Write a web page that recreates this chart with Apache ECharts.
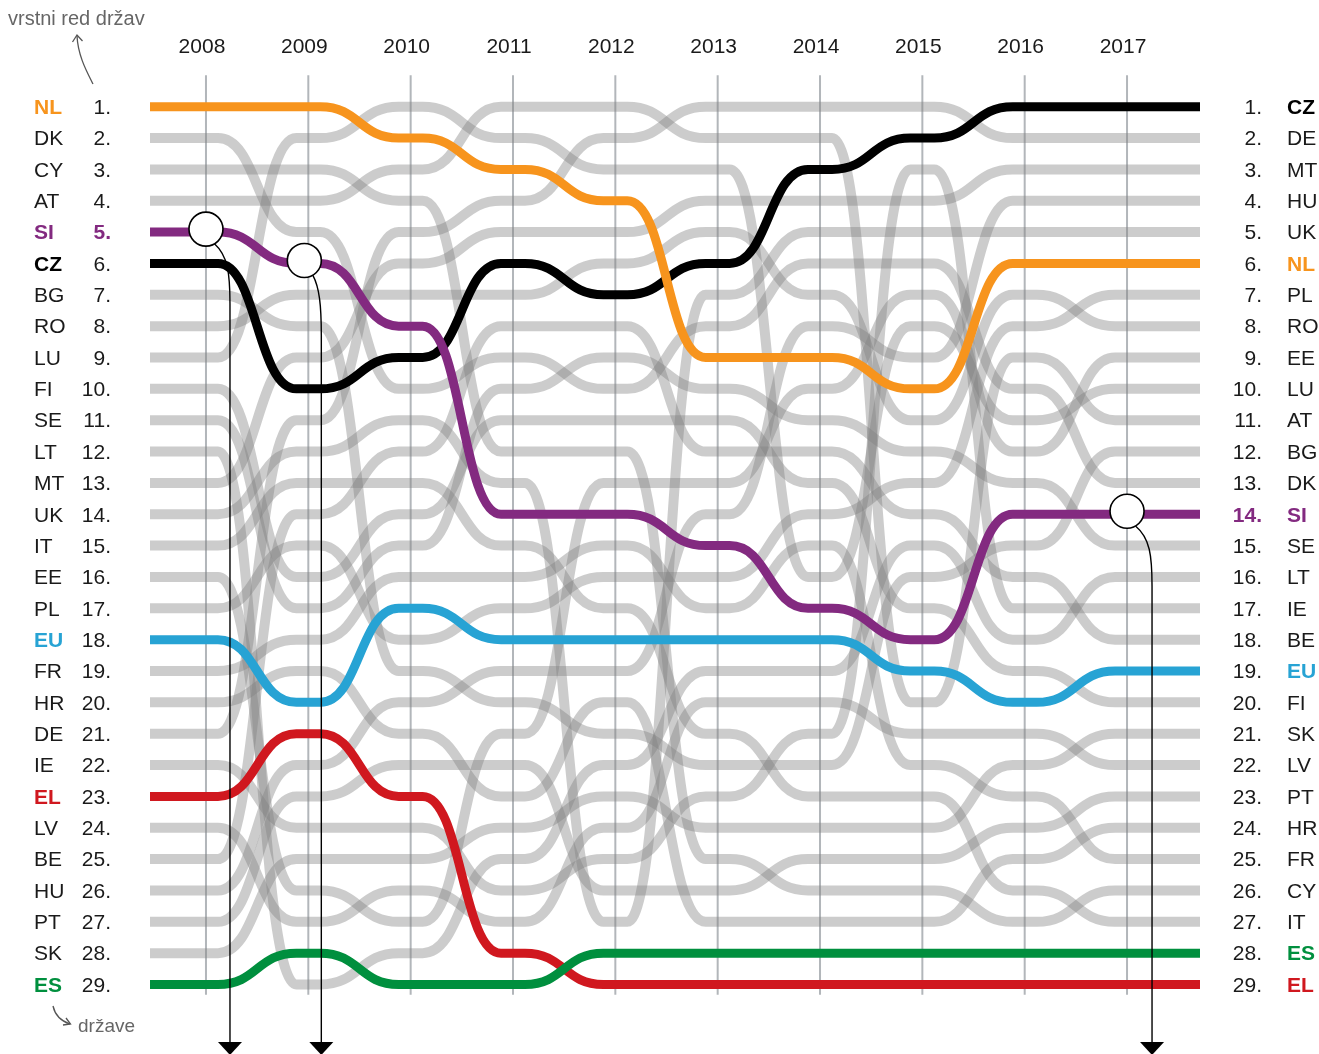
<!DOCTYPE html>
<html>
<head>
<meta charset="utf-8">
<script src="https://cdn.jsdelivr.net/npm/echarts@6/dist/echarts.min.js"></script>
<style>
  html, body { margin: 0; padding: 0; background: #ffffff; }
  #chart { width: 1319px; height: 1054px; }
</style>
</head>
<body>
<div id="chart"></div>
<script>
// Years shown across the top
const years = [2008, 2009, 2010, 2011, 2012, 2013, 2014, 2015, 2016, 2017];

// Country order for each year (position 1 first)
const order2008 = ['NL','DK','CY','AT','SI','CZ','BG','RO','LU','FI','SE','LT','MT','UK','IT','EE','PL','EU','FR','HR','DE','IE','EL','LV','BE','HU','PT','SK','ES'];
const order2009 = ['NL','LU','CY','AT','DK','SI','RO','BG','MT','CZ','DE','UK','IT','BE','PL','FI','SE','FR','HR','EU','EL','HU','PT','IE','SK','EE','LV','ES','LT'];
const order2010 = ['LU','NL','AT','CY','DE','MT','RO','SI','CZ','DK','UK','BE','IT','FI','SE','FR','EU','PL','BG','HU','HR','PT','EL','IE','SK','LV','EE','LT','ES'];
const order2011 = ['AT','LU','NL','DE','MT','CZ','RO','BE','DK','SE','FI','CY','UK','SI','IT','FR','PL','EU','HU','BG','EE','PT','HR','SK','LT','IE','LV','EL','ES'];
const order2012 = ['AT','DE','LU','NL','MT','RO','CZ','BE','SE','DK','FI','CY','EE','SI','FR','PL','IT','EU','HU','HR','BG','LT','SK','LV','IE','PT','UK','ES','EL'];
const order2013 = ['DE','AT','LU','MT','RO','CZ','UK','DK','NL','SE','FI','BE','EE','HU','SI','PL','FR','EU','LT','LV','IT','BG','IE','SK','CY','PT','HR','ES','EL'];
const order2014 = ['DE','AT','CZ','MT','UK','DK','RO','HU','NL','EE','SE','BE','FI','PL','FR','LU','SI','EU','LT','LV','IE','BG','IT','SK','PT','CY','HR','ES','EL'];
const order2015 = ['DE','CZ','IE','MT','UK','DK','EE','LU','HU','NL','RO','SE','PL','BE','LT','BG','FI','SI','EU','AT','LV','FR','IT','SK','PT','CY','HR','ES','EL'];
const order2016 = ['CZ','DE','MT','HU','UK','NL','RO','PL','AT','DK','LU','EE','SE','SI','BG','BE','IE','LT','FI','EU','LV','SK','FR','PT','HR','IT','CY','ES','EL'];
const order2017 = ['CZ','DE','MT','HU','UK','NL','PL','RO','EE','LU','AT','BG','DK','SI','SE','LT','IE','BE','EU','FI','SK','LV','PT','HR','FR','CY','IT','ES','EL'];

const orders = [order2008, order2009, order2010, order2011, order2012, order2013, order2014, order2015, order2016, order2017];

// Highlighted countries and their colours
const highlighted = ['EU', 'EL', 'ES', 'CZ', 'NL', 'SI'];
const lineColors = { NL: '#f7941d', SI: '#832a80', CZ: '#000000', EU: '#27a3d4', EL: '#d0181f', ES: '#008f3e' };

// Country marked with a callout circle, and the years marked
const calloutYears = [2008, 2009, 2017];
const calloutCountry = 'SI';

// ---------------------------------------------------------------------------
const X_MIN = 2007.453, X_MAX = 2017.713;
const RANK_MIN = 0, RANK_MAX = 30;
const FONT = '"Liberation Sans", Arial, Helvetica, sans-serif';
const TEXT_COLOR = '#1a1a1a';

function rankOf(code, yearIdx) { return orders[yearIdx].indexOf(code) + 1; }

const countries = order2008.slice();
const seriesData = {};
countries.forEach(c => { seriesData[c] = years.map((y, i) => [y, rankOf(c, i)]); });

// Smooth stepped path through each year, flat around every year mark
function bumpPath(api, pts) {
  const plateau = 12;
  const p = pts.map(d => api.coord(d));
  const left = api.coord([X_MIN, pts[0][1]]);
  const right = api.coord([X_MAX, pts[pts.length - 1][1]]);
  let d = 'M' + left[0] + ' ' + left[1] + ' L' + p[0][0] + ' ' + p[0][1];
  for (let i = 1; i < p.length; i++) {
    const x0 = p[i - 1][0] + plateau, y0 = p[i - 1][1];
    const x1 = p[i][0] - plateau, y1 = p[i][1];
    const w = x1 - x0;
    d += ' L' + x0 + ' ' + y0;
    d += ' C' + (x0 + w * 0.5) + ' ' + y0 + ' ' + (x1 - w * 0.5) + ' ' + y1 + ' ' + x1 + ' ' + y1;
    d += ' L' + p[i][0] + ' ' + p[i][1];
  }
  d += ' L' + right[0] + ' ' + right[1];
  return d;
}

function countrySeries(code) {
  const isHi = highlighted.indexOf(code) >= 0;
  const pts = seriesData[code];
  return {
    type: 'custom',
    name: code,
    coordinateSystem: 'cartesian2d',
    data: pts,
    z: isHi ? 5 + highlighted.indexOf(code) : 3,
    silent: true,
    renderItem: function (params, api) {
      if (params.dataIndex !== pts.length - 1) return null;
      return {
        type: 'path',
        shape: { pathData: bumpPath(api, pts) },
        style: {
          fill: 'none',
          stroke: isHi ? lineColors[code] : 'rgba(128,128,128,0.4)',
          lineWidth: isHi ? 9 : 10,
          lineCap: 'butt',
          lineJoin: 'round'
        }
      };
    }
  };
}

// Year grid lines with their labels
const yearSeries = {
  type: 'custom',
  coordinateSystem: 'cartesian2d',
  data: years.map(y => [y, 0]),
  z: 1,
  silent: true,
  renderItem: function (params, api) {
    const top = api.coord([api.value(0), 0]);
    const bottom = api.coord([api.value(0), 29.33]);
    return {
      type: 'group',
      children: [
        { type: 'line', shape: { x1: top[0], y1: top[1], x2: bottom[0], y2: bottom[1] },
          style: { stroke: '#b2b6ba', lineWidth: 2 } },
        { type: 'text', x: top[0] - 4, y: top[1] - 28,
          style: { text: String(api.value(0)), fill: TEXT_COLOR, font: '21px ' + FONT,
                   textAlign: 'center', textVerticalAlign: 'middle' } }
      ]
    };
  }
};

// Country / position labels on both sides
const rankNumbers = order2008.map((c, i) => i + 1);
const labelSeries = {
  type: 'custom',
  coordinateSystem: 'cartesian2d',
  data: rankNumbers.map(r => [X_MIN, r]),
  z: 10,
  silent: true,
  renderItem: function (params, api) {
    const r = api.value(1);
    const y = api.coord([X_MIN, r])[1] + 1.5;
    const lc = order2008[r - 1], rc = order2017[r - 1];
    const lHi = highlighted.indexOf(lc) >= 0, rHi = highlighted.indexOf(rc) >= 0;
    const numStyle = (code) => code === calloutCountry
      ? { fill: lineColors[code], font: 'bold 21px ' + FONT }
      : { fill: TEXT_COLOR, font: '21px ' + FONT };
    const codeStyle = (code, hi) => hi
      ? { fill: lineColors[code], font: 'bold 21px ' + FONT }
      : { fill: TEXT_COLOR, font: '21px ' + FONT };
    const mk = (x, text, align, st) => ({ type: 'text', x: x, y: y,
      style: Object.assign({ text: text, textAlign: align, textVerticalAlign: 'middle' }, st) });
    return {
      type: 'group',
      children: [
        mk(34, lc, 'left', codeStyle(lc, lHi)),
        mk(111, r + '.', 'right', numStyle(lc)),
        mk(1262, r + '.', 'right', numStyle(rc)),
        mk(1287, rc, 'left', codeStyle(rc, rHi))
      ]
    };
  }
};

// Callout circles with pointer arrows running down off the chart
const calloutOffsets = [24, 17, 25];
const calloutSeries = {
  type: 'custom',
  coordinateSystem: 'cartesian2d',
  data: calloutYears.map(y => [y, rankOf(calloutCountry, years.indexOf(y))]),
  z: 20,
  silent: true,
  renderItem: function (params, api) {
    const c = api.coord([api.value(0), api.value(1)]);
    const cx = c[0] - (params.dataIndex === 1 ? 4 : 0), cy = c[1] - 3;
    const rad = 17;
    const off = calloutOffsets[params.dataIndex];
    const vx = cx + off;
    const sx = cx + rad * Math.cos(1.05), sy = cy + rad * Math.sin(1.05);
    const yEnd = 1044;
    const path = 'M' + sx + ' ' + sy + ' C' + (vx - 2) + ' ' + (sy + 12) + ' ' + vx + ' ' + (sy + 30) + ' ' + vx + ' ' + (sy + 60) + ' L' + vx + ' ' + yEnd;
    return {
      type: 'group',
      children: [
        { type: 'path', shape: { pathData: path }, style: { fill: 'none', stroke: '#000', lineWidth: 1.4 } },
        { type: 'polygon', shape: { points: [[vx - 12, 1042], [vx + 12, 1042], [vx, 1055]] }, style: { fill: '#000' } },
        { type: 'circle', shape: { cx: cx, cy: cy, r: rad }, style: { fill: '#ffffff', stroke: '#000', lineWidth: 1.6 } }
      ]
    };
  }
};

const chart = echarts.init(document.getElementById('chart'), null, { renderer: 'canvas' });

const series = [yearSeries];
countries.filter(c => highlighted.indexOf(c) < 0).forEach(c => series.push(countrySeries(c)));
highlighted.forEach(c => series.push(countrySeries(c)));
series.push(labelSeries, calloutSeries);

chart.setOption({
  backgroundColor: '#ffffff',
  animation: false,
  grid: { left: 150, right: 119, top: 75.35, bottom: 38.15, containLabel: false },
  xAxis: { type: 'value', min: X_MIN, max: X_MAX, show: false },
  yAxis: { type: 'value', min: RANK_MIN, max: RANK_MAX, inverse: true, show: false },
  graphic: [
    { type: 'text', x: 8, y: 9,
      style: { text: 'vrstni red držav', fill: '#666666', font: '20px ' + FONT } },
    { type: 'bezierCurve', shape: { x1: 93, y1: 84, cpx1: 87, cpy1: 72, cpx2: 78, cpy2: 56, x2: 77, y2: 36 },
      style: { fill: 'none', stroke: '#555555', lineWidth: 1.3 } },
    { type: 'polyline', shape: { points: [[72.5, 42], [77, 35], [82.5, 41]] },
      style: { fill: 'none', stroke: '#555555', lineWidth: 1.3 } },
    { type: 'text', x: 78, y: 1017,
      style: { text: 'države', fill: '#666666', font: '19px ' + FONT } },
    { type: 'bezierCurve', shape: { x1: 53, y1: 1006, cpx1: 55, cpy1: 1015, cpx2: 61, cpy2: 1021, x2: 70, y2: 1024 },
      style: { fill: 'none', stroke: '#555555', lineWidth: 1.3 } },
    { type: 'polyline', shape: { points: [[63, 1025], [70.5, 1024], [66, 1018]] },
      style: { fill: 'none', stroke: '#555555', lineWidth: 1.3 } }
  ],
  series: series
});
</script>
</body>
</html>
